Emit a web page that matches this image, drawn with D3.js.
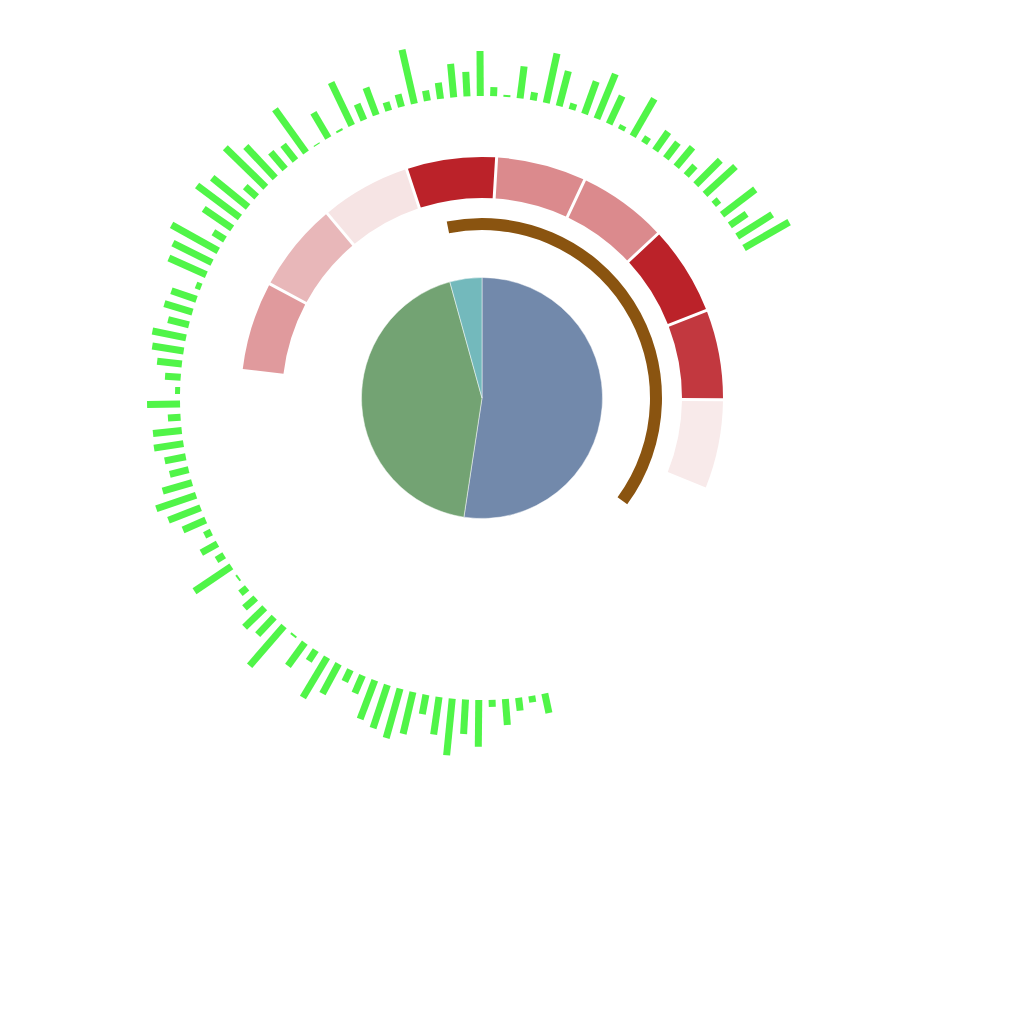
<!DOCTYPE html>
<html>
<head>
<meta charset="utf-8">
<script src="https://cdn.jsdelivr.net/npm/d3@7"></script>
<style>
  html, body { margin: 0; padding: 0; background: #ffffff; }
  svg { display: block; }
</style>
</head>
<body>
<svg id="chart" width="1024" height="1024"></svg>
<script>
// ---------------- data ----------------
const pieLabels = ["A", "B", "C"];
const pieValues = [52.4, 43.3, 4.3];
const pieColors = ["#7289ab", "#73a373", "#73b9bc"];

const progressValue = 38.2;           // percent of the full ring
const progressColor = "#8a5410";

const segmentLabels = ["s1", "s2", "s3", "s4", "s5", "s6", "s7", "s8", "s9"];
const segmentValues = [41, 27, 5, 100, 49, 49, 100, 89, 2];

const barValues = [
  20, 6.5, 13, 26, 7, 46.7, 34.5, 57, 38, 19.7,
  43, 51.2, 45.7, 41.4, 19.4, 13, 33.9, 47, 12.8, 28.8,
  2, 52.5, 24, 28, 15, 8.6, 2, 44.4, 9, 18.5,
  7.5, 24.8, 34.5, 42, 30.6, 19.4, 21.4, 29.8, 28.9, 12.7,
  33, 5, 15.7, 24.9, 31.8, 34.3, 21.5, 29.3, 26.6, 5.5,
  41, 43.7, 53.4, 13.6, 34.4, 53.4, 46.3, 15.4, 56.5, 43,
  22, 19.9, 53.3, 1, 29.3, 2, 47.8, 17.3, 29.3, 8.9,
  13, 55.3, 10.6, 16.3, 33.6, 24.5, 45, 9.2, 2, 32.3,
  8.2, 50.6, 36, 6.4, 34.5, 48.4, 31, 4.8, 43.3, 7.3,
  22.8, 19.8, 25.3, 13, 34.6, 41.3, 6.8, 41.8, 20.4, 41.4,
  51.9
];
const barColor = "#50f548";

// ---------------- layout ----------------
const cx = 482, cy = 398;
const deg = Math.PI / 180;
const svg = d3.select("#chart");
const g = svg.append("g").attr("transform", `translate(${cx},${cy})`);

// ---- green radial bars ----
const barAngle = d3.scalePoint()
  .domain(d3.range(barValues.length))
  .range([168, 420.2]);
const barRadius = d3.scaleLinear().domain([0, 60]).range([302, 362]);
const barW = 7;

g.append("g").selectAll("rect")
  .data(barValues)
  .join("rect")
  .attr("x", -barW / 2)
  .attr("y", d => -barRadius(d))
  .attr("width", barW)
  .attr("height", d => barRadius(d) - barRadius(0))
  .attr("fill", barColor)
  .attr("transform", (d, i) => `rotate(${barAngle(i)})`);

// ---- red segment ring ----
const segAngle = d3.scaleBand()
  .domain(segmentLabels)
  .range([-83.45 * deg, 112.15 * deg])
  .padding(0);
const segColor = d3.scaleLinear().domain([0, 100])
  .range(["#f9eeee", "#bb2229"]).interpolate(d3.interpolateRgb);
const segArc = d3.arc()
  .innerRadius(200)
  .outerRadius(241)
  .padRadius(200)
  .padAngle(3 / 200);

g.append("g").selectAll("path")
  .data(segmentLabels.map((l, i) => ({ label: l, value: segmentValues[i] })))
  .join("path")
  .attr("d", d => segArc({
    startAngle: segAngle(d.label),
    endAngle: segAngle(d.label) + segAngle.bandwidth()
  }))
  .attr("fill", d => segColor(d.value));

// ---- brown progress arc ----
const progAngle = d3.scaleLinear().domain([0, 100]).range([-11.3 * deg, 348.7 * deg]);
g.append("path")
  .attr("d", d3.arc()({
    innerRadius: 168, outerRadius: 180,
    startAngle: progAngle(0), endAngle: progAngle(progressValue)
  }))
  .attr("fill", progressColor);

// ---- pie ----
const pie = d3.pie().sort(null).value(d => d)(pieValues);
const pieArc = d3.arc().innerRadius(0).outerRadius(120.5);
g.append("g").selectAll("path")
  .data(pie)
  .join("path")
  .attr("d", pieArc)
  .attr("fill", (d, i) => pieColors[i])
  .attr("stroke", "#ffffff")
  .attr("stroke-width", 0.6)
  .attr("stroke-opacity", 0.8);
</script>
</body>
</html>
